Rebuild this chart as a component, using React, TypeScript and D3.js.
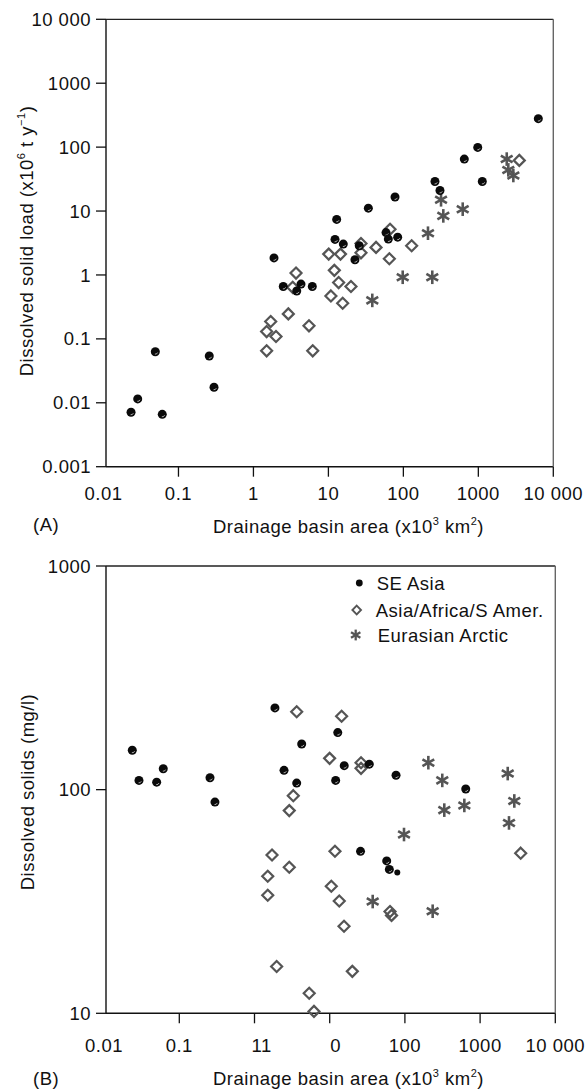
import React from 'react';
import * as d3 from 'd3';

// ---------- DATA ----------
const xTickValues = [0.01, 0.1, 1, 10, 100, 1000, 10000];
const xTickLabelsA = ['0.01', '0.1', '1', '10', '100', '1000', '10 000'];
const xTickLabelsB = ['0.01', '0.1', '11', '0', '100', '1000', '10 000'];
const yTickValuesA = [0.001, 0.01, 0.1, 1, 10, 100, 1000, 10000];
const yTickLabelsA = ['0.001', '0.01', '0.1', '1', '10', '100', '1000', '10 000'];
const yTickValuesB = [10, 100, 1000];
const yTickLabelsB = ['10', '100', '1000'];

const legendLabels = ['SE Asia', 'Asia/Africa/S Amer.', 'Eurasian Arctic'];

// Panel A: drainage area (x10^3 km2) vs dissolved solid load (x10^6 t/y)
const seAsiaA: [number, number][] = [
  [0.0233, 0.0071], [0.0286, 0.0115], [0.0491, 0.063], [0.0608, 0.0066],
  [0.2576, 0.054], [0.298, 0.0175], [1.88, 1.85], [2.5, 0.66], [3.78, 0.56],
  [4.31, 0.72], [6.1, 0.66], [12.9, 7.4], [12.25, 3.6], [15.8, 3.04],
  [22.6, 1.73], [25.8, 2.86], [34.1, 11.1], [58.7, 4.6], [63, 3.64],
  [84, 3.9], [77.4, 16.6], [264, 29], [308, 21], [650, 65], [982, 99],
  [1130, 29], [6310, 279],
];
const otherA: [number, number][] = [
  [1.5, 0.065], [1.7, 0.187], [1.5, 0.13], [2.0, 0.109], [2.92, 0.246],
  [3.7, 1.07], [3.34, 0.64], [5.51, 0.16], [6.18, 0.065], [10.1, 2.12],
  [14.5, 2.12], [12.0, 1.18], [13.7, 0.76], [20, 0.66], [10.8, 0.47],
  [15.5, 0.36], [27.2, 3.1], [27.2, 2.22], [43.2, 2.7], [66.4, 5.2],
  [65, 1.79], [129, 2.86], [3520, 62],
];
const arcticA: [number, number][] = [
  [38.5, 0.4], [98, 0.92], [243, 0.92], [213, 4.5], [341, 8.4], [318, 15],
  [619, 10.7], [2393, 65], [2512, 44], [2930, 36],
];

// Panel B: drainage area (x10^3 km2) vs dissolved solids (mg/l)
const seAsiaB: [number, number][] = [
  [0.0237, 150], [0.0291, 110], [0.05, 108], [0.0612, 124], [0.256, 113],
  [0.298, 88], [1.87, 232], [2.47, 122], [3.64, 107], [4.24, 160],
  [12.8, 180], [15.6, 128], [12.0, 110], [33.6, 130], [76.2, 116],
  [25.7, 53], [57.3, 48], [62.1, 44], [644, 100.7],
];
const seAsiaBSmall: [number, number][] = [[79.2, 42.6]];
const otherB: [number, number][] = [
  [3.64, 223], [14.4, 213], [9.97, 138], [26.1, 132], [26.1, 124.5],
  [3.28, 94], [2.9, 80.6], [1.71, 51], [2.9, 45], [1.5, 41], [1.5, 33.7],
  [1.97, 16.2], [11.75, 53], [10.5, 37], [13.4, 31.8], [15.5, 24.5],
  [63.4, 28.5], [66.4, 27.4], [20, 15.4], [5.34, 12.3], [6.18, 10.2],
  [3467, 52],
];
const arcticB: [number, number][] = [
  [205, 132], [314, 110], [334, 81], [617, 85], [2330, 118], [2850, 89],
  [2423, 71], [97.3, 63], [37.3, 31.6], [234, 28.6],
];

// ---------- STYLE ----------
const FONT = '"Liberation Sans", Arial, Helvetica, sans-serif';
const FS = 18.5;
const LS = 0.5;
const GRAY = '#555';

const Dot = ({ x, y, r = 4.5 }: { x: number; y: number; r?: number }) => {
  const a0 = (20 * Math.PI) / 180;
  const a1 = (100 * Math.PI) / 180;
  const rr = r * 0.55;
  const p = `M${x + rr * Math.cos(a0)},${y + rr * Math.sin(a0)} A${rr},${rr} 0 0 1 ${x + rr * Math.cos(a1)},${y + rr * Math.sin(a1)}`;
  return (
    <g>
      <circle cx={x} cy={y} r={r} fill="#0a0a0a" />
      {r > 3.5 && <path d={p} stroke="#fff" strokeWidth={0.8} fill="none" opacity={0.8} />}
    </g>
  );
};

const Diamond = ({ x, y, s = 5.5, sw = 2.2 }: { x: number; y: number; s?: number; sw?: number }) => (
  <path
    d={`M${x},${y - s} L${x + s},${y} L${x},${y + s} L${x - s},${y} Z`}
    fill="none"
    stroke={GRAY}
    strokeWidth={sw}
  />
);

const Star = ({ x, y, r = 6.8, sw = 2.6 }: { x: number; y: number; r?: number; sw?: number }) => {
  const angles = [90, 30, 150];
  return (
    <g stroke={GRAY} strokeWidth={sw}>
      {angles.map((a) => {
        const dx = r * Math.cos((a * Math.PI) / 180);
        const dy = r * Math.sin((a * Math.PI) / 180);
        return <line key={a} x1={x - dx} y1={y - dy} x2={x + dx} y2={y + dy} />;
      })}
    </g>
  );
};

type PanelProps = {
  x: d3.ScaleLogarithmic<number, number>;
  y: d3.ScaleLogarithmic<number, number>;
  left: number;
  right: number;
  top: number;
  bottom: number;
  yTicks: number[];
  yLabels: string[];
  xLabels: string[];
  xLabelY: number;
};

const Frame = ({ x, y, left, right, top, bottom, yTicks, yLabels, xLabels, xLabelY }: PanelProps) => (
  <g>
    <line x1={left} y1={top} x2={left} y2={bottom} stroke="#111" strokeWidth={1.4} />
    <line x1={left} y1={bottom} x2={right} y2={bottom} stroke="#111" strokeWidth={1.4} />
    <line x1={left} y1={top} x2={right} y2={top} stroke="#222" strokeWidth={1.3} />
    <line x1={right} y1={top} x2={right} y2={bottom} stroke="#666" strokeWidth={1.4} />
    {yTicks.map((t, i) => (
      <g key={'y' + t}>
        <line x1={left - 10} x2={left} y1={y(t)} y2={y(t)} stroke="#111" strokeWidth={1.3} />
        <text x={91} y={y(t) + 6.6} textAnchor="end" fontSize={FS} letterSpacing={LS}>
          {yLabels[i]}
        </text>
      </g>
    ))}
    {xTickValues.map((t, i) => {
      const px = x(t);
      const lab = xLabels[i];
      let anchor: 'middle' | 'start' = 'middle';
      let lx = px;
      if (lab === '11') {
        anchor = 'start';
        lx = px - 3;
      } else if (lab === '0' && t === 10) {
        lx = px + 6;
      }
      return (
        <g key={'x' + t}>
          {px >= left - 0.5 && (
            <line x1={px} x2={px} y1={bottom} y2={bottom + 10} stroke="#111" strokeWidth={1.3} />
          )}
          <text x={lx} y={xLabelY} textAnchor={anchor} fontSize={FS} letterSpacing={LS}>
            {lab}
          </text>
        </g>
      );
    })}
  </g>
);

const XTitle = ({ x, y }: { x: number; y: number }) => (
  <text x={x} y={y} fontSize={FS} letterSpacing={LS}>
    Drainage basin area (x10
    <tspan dy={-8} fontSize={11}>3</tspan>
    <tspan dy={8}> km</tspan>
    <tspan dy={-8} fontSize={11}>2</tspan>
    <tspan dy={8}>)</tspan>
  </text>
);

export default function App() {
  // Panel A geometry
  const xA = d3.scaleLog().domain([0.01, 10000]).range([103.5, 553.3]);
  const yA = d3.scaleLog().domain([0.001, 10000]).range([466.7, 19.3]);
  // Panel B geometry
  const xB = d3.scaleLog().domain([0.01, 10000]).range([104.1, 555.3]);
  const yB = d3.scaleLog().domain([10, 1000]).range([1013.3, 566]);

  return (
    <svg
      width={588}
      height={1089}
      style={{ position: 'absolute', left: 0, top: 0, background: '#fff' }}
      fontFamily={FONT}
      fill="#111"
    >
      <rect x={0} y={0} width={588} height={1089} fill="#fff" />

      {/* Panel A */}
      <Frame
        x={xA}
        y={yA}
        left={106}
        right={553.3}
        top={19.3}
        bottom={466.7}
        yTicks={yTickValuesA}
        yLabels={yTickLabelsA}
        xLabels={xTickLabelsA}
        xLabelY={499.6}
      />
      <g>
        {otherA.map((d, i) => (
          <Diamond key={'oa' + i} x={xA(d[0])} y={yA(d[1])} />
        ))}
        {arcticA.map((d, i) => (
          <Star key={'aa' + i} x={xA(d[0])} y={yA(d[1])} />
        ))}
        {seAsiaA.map((d, i) => (
          <Dot key={'sa' + i} x={xA(d[0])} y={yA(d[1])} />
        ))}
      </g>
      <text transform="translate(33,241) rotate(-90)" textAnchor="middle" fontSize={FS} letterSpacing={LS}>
        Dissolved solid load (x10
        <tspan dy={-8} fontSize={11}>6</tspan>
        <tspan dy={8}> t y</tspan>
        <tspan dy={-8} fontSize={11}>−1</tspan>
        <tspan dy={8}>)</tspan>
      </text>
      <text x={33} y={530.6} fontSize={FS} letterSpacing={LS}>(A)</text>
      <XTitle x={213} y={533} />

      {/* Panel B */}
      <Frame
        x={xB}
        y={yB}
        left={106}
        right={555.3}
        top={566}
        bottom={1013.3}
        yTicks={yTickValuesB}
        yLabels={yTickLabelsB}
        xLabels={xTickLabelsB}
        xLabelY={1051.6}
      />
      <g>
        {otherB.map((d, i) => (
          <Diamond key={'ob' + i} x={xB(d[0])} y={yB(d[1])} />
        ))}
        {arcticB.map((d, i) => (
          <Star key={'ab' + i} x={xB(d[0])} y={yB(d[1])} />
        ))}
        {seAsiaB.map((d, i) => (
          <Dot key={'sb' + i} x={xB(d[0])} y={yB(d[1])} />
        ))}
        {seAsiaBSmall.map((d, i) => (
          <Dot key={'ss' + i} x={xB(d[0])} y={yB(d[1])} r={3} />
        ))}
      </g>
      {/* Legend */}
      <g>
        <Dot x={359.3} y={583} r={3.4} />
        <text x={376.7} y={589.6} fontSize={FS} letterSpacing={LS}>{legendLabels[0]}</text>
        <Diamond x={356.7} y={610} s={4.3} sw={1.9} />
        <text x={375.7} y={616.6} fontSize={FS} letterSpacing={LS}>{legendLabels[1]}</text>
        <Star x={355.7} y={635} r={5.4} sw={2.3} />
        <text x={377.7} y={641.6} fontSize={FS} letterSpacing={LS}>{legendLabels[2]}</text>
      </g>
      <text transform="translate(34,792) rotate(-90)" textAnchor="middle" fontSize={FS} letterSpacing={LS}>
        Dissolved solids (mg/l)
      </text>
      <text x={33} y={1084.6} fontSize={FS} letterSpacing={LS}>(B)</text>
      <XTitle x={213} y={1085} />
    </svg>
  );
}
